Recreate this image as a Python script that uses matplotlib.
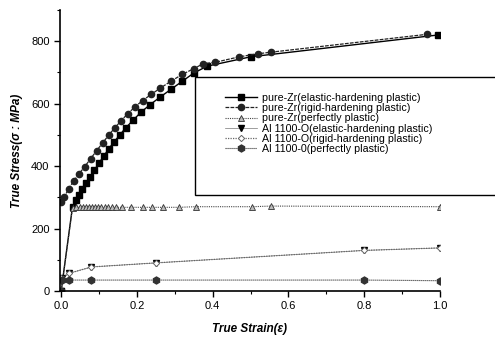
import matplotlib.pyplot as plt
from matplotlib.patches import Rectangle
from matplotlib.ticker import MultipleLocator

# pure-Zr
zr_eh_x = [0.0, 0.030, 0.039, 0.047, 0.055, 0.065, 0.076, 0.088, 0.100, 0.113, 0.126, 0.140,
           0.155, 0.170, 0.190, 0.210, 0.235, 0.260, 0.290, 0.320, 0.350, 0.385, 0.500, 0.995]
zr_eh_y = [0, 270, 290, 308, 326, 345, 366, 388, 410, 433, 456, 478,
           500, 522, 547, 572, 597, 620, 646, 672, 698, 720, 750, 820]

zr_rh_x = [0.0, 0.008, 0.020, 0.033, 0.047, 0.062, 0.078, 0.094, 0.110, 0.126, 0.142, 0.158, 0.176,
           0.195, 0.215, 0.238, 0.262, 0.290, 0.320, 0.350, 0.375, 0.405, 0.470, 0.520, 0.555, 0.965]
zr_rh_y = [285, 300, 328, 352, 375, 398, 424, 450, 475, 500, 523, 545, 568,
           590, 610, 630, 650, 672, 694, 712, 728, 732, 750, 760, 765, 822]

zr_pp_x = [0.0, 0.030, 0.040, 0.050, 0.058, 0.066, 0.074, 0.082, 0.090, 0.098, 0.106, 0.115, 0.125,
           0.135, 0.145, 0.160, 0.185, 0.215, 0.240, 0.270, 0.310, 0.355, 0.505, 0.555, 1.0]
zr_pp_y = [0, 265, 268, 268, 268, 268, 268, 268, 268, 268, 268, 268, 268,
           268, 268, 268, 268, 268, 268, 268, 268, 270, 270, 272, 270]

# Al 1100-O
al_x = [0.0, 0.003, 0.022, 0.080, 0.250, 0.800, 1.0]
al_eh_y = [0, 42, 57, 77, 90, 130, 138]
al_rh_x = [0.0, 0.022, 0.080, 0.250, 0.800, 1.0]
al_rh_y = [42, 57, 77, 90, 130, 138]
al_pp_y = [0, 35, 35, 35, 35, 35, 33]

labels = ["pure-Zr(elastic-hardening plastic)", "pure-Zr(rigid-hardening plastic)",
          "pure-Zr(perfectly plastic)", "Al 1100-O(elastic-hardening plastic)",
          "Al 1100-O(rigid-hardening plastic)", "Al 1100-0(perfectly plastic)"]

plt.rcParams['font.family'] = ['Liberation Sans', 'DejaVu Sans']

fig = plt.figure(figsize=(4.95, 3.38), dpi=100)
ax = fig.add_axes([60/495, 1-291/338, 380/495, 281/338])

ax.plot(zr_eh_x, zr_eh_y, '-', color='black', lw=1.0, marker='s', ms=4.5, label=labels[0])
ax.plot(zr_rh_x, zr_rh_y, color='#222222', ls=(0, (3, 1)), lw=0.9, marker='o', ms=4.5, label=labels[1])
ax.plot(zr_pp_x, zr_pp_y, color='#444444', ls=(0, (1, 1)), lw=0.8, marker='^', ms=4,
        mfc='#bbbbbb', mec='#333333', mew=0.6, label=labels[2])
ax.plot(al_x, al_eh_y, '-', color='#777777', lw=0.5, marker='v', ms=4.5, mfc='black', mec='black',
        label=labels[3])
ax.plot(al_rh_x, al_rh_y, color='#666666', ls=(0, (1, 1)), lw=0.9, marker='D', ms=3.2,
        mfc='white', mec='#666666', mew=0.7, label=labels[4])
ax.plot(al_x, al_pp_y, color='#333333', ls=(0, (1, 0.8)), lw=0.8, marker='h', ms=5,
        label=labels[5])

ax.set_xlim(-0.003, 1.0)
ax.set_ylim(0, 900)
ax.xaxis.set_minor_locator(MultipleLocator(0.1))
ax.yaxis.set_minor_locator(MultipleLocator(100))
ax.set_xticks([0.0, 0.2, 0.4, 0.6, 0.8, 1.0])
ax.set_xticklabels(["0.0", "0.2", "0.4", "0.6", "0.8", "1.0"])
ax.set_yticks([0, 200, 400, 600, 800])
ax.tick_params(which='major', direction='out', length=4, width=1, labelsize=8)
ax.tick_params(which='minor', direction='out', length=2, width=0.8)
for s in ['top', 'right']:
    ax.spines[s].set_visible(False)
for s in ['left', 'bottom']:
    ax.spines[s].set_linewidth(1.2)

ax.set_xlabel("True Strain(ε)", fontsize=8.5, fontweight='bold', style='italic', labelpad=8)
ax.set_ylabel("True Stress(σ : MPa)", fontsize=8.5, fontweight='bold', style='italic', labelpad=6)

# legend frame reaching past the plot, as in the original
fig.patches.append(Rectangle((195/495, 1-195/338), 305/495, 118/338, transform=fig.transFigure,
                             fill=True, facecolor='white', edgecolor='black', lw=1.0, zorder=3))
leg = fig.legend(loc='upper left', bbox_to_anchor=(225/495, 1-93/338), frameon=False,
                 fontsize=7.7, handlelength=3.0, handletextpad=0.5, labelspacing=0.02,
                 borderpad=0, borderaxespad=0)
leg.set_zorder(4)

fig.savefig("out.png", dpi=100)
